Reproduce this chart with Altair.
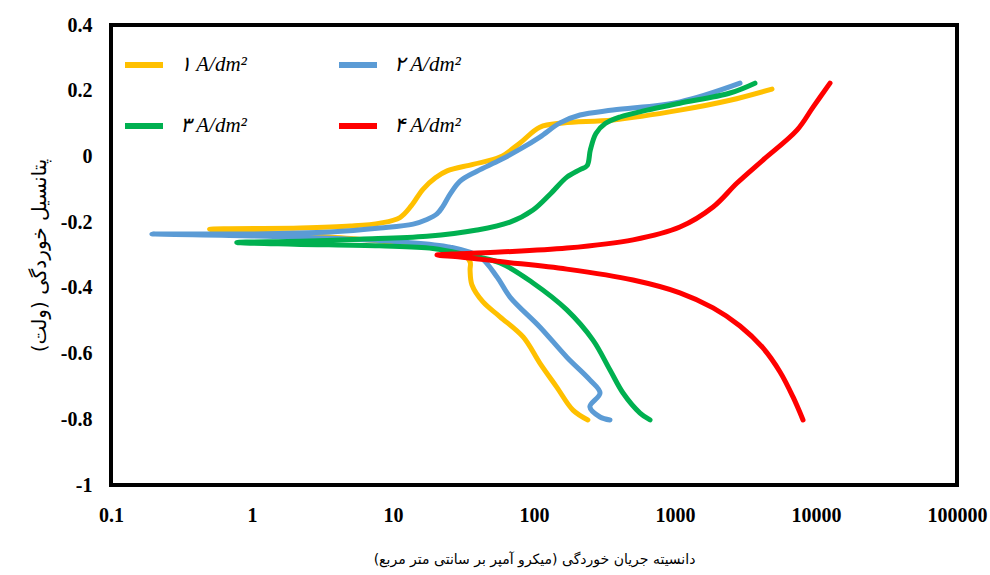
import altair as alt
import pandas as pd

# ---- data (current density in µA/cm², potential in V) ----
series_labels = ["۱ A/dm²", "۲ A/dm²", "۳ A/dm²", "۴ A/dm²"]
series_colors = ["#FFC000", "#5B9BD5", "#00B050", "#FF0000"]

# each series: cathodic end -> tip at Ecorr -> anodic end
s1_i = [241, 189, 145, 110, 84, 57.4, 43.5, 36.3, 35.2, 35.2, 30, 15, 5, 1.5, 0.5,
        2.2, 5, 8.1, 11.2, 13.5, 16.3, 20, 24.2, 36.9, 57.4, 79.6, 110, 161, 363, 1083, 2455, 4876]
s1_e = [-0.802, -0.772, -0.702, -0.629, -0.55, -0.488, -0.443, -0.391, -0.346, -0.321, -0.295, -0.27, -0.25, -0.235, -0.222,
        -0.218, -0.212, -0.203, -0.186, -0.15, -0.1, -0.065, -0.044, -0.024, -0.002, 0.041, 0.089, 0.102, 0.111, 0.141, 0.171, 0.205]

s2_i = [346, 294, 249, 294, 249, 171, 110, 67.6, 54.7, 41.4, 25.4, 11.2, 4, 1, 0.195,
        1, 3.6, 8.1, 13.9, 17.4, 20.5, 22.6, 25.4, 29.9, 39.4, 57.4, 79.6, 110, 153, 212, 363, 1083, 2891]
s2_e = [-0.802, -0.793, -0.762, -0.72, -0.68, -0.611, -0.519, -0.428, -0.367, -0.306, -0.276, -0.26, -0.25, -0.242, -0.236,
        -0.236, -0.23, -0.218, -0.206, -0.192, -0.175, -0.152, -0.115, -0.075, -0.045, -0.011, 0.022, 0.059, 0.102, 0.126, 0.141, 0.166, 0.223]

s3_i = [665, 565, 428, 346, 262, 171, 98.4, 57.4, 33.5, 19.2, 8, 2, 0.78,
        2.2, 5.8, 17.4, 39.4, 67.6, 98.4, 130, 171, 212, 238, 251, 275, 320, 407, 633, 1083, 2455, 3690]
s3_e = [-0.802, -0.781, -0.72, -0.65, -0.559, -0.467, -0.385, -0.324, -0.3, -0.28, -0.272, -0.267, -0.262,
        -0.258, -0.252, -0.243, -0.224, -0.2, -0.163, -0.115, -0.063, -0.04, -0.028, 0.02, 0.07, 0.1, 0.12, 0.141, 0.162, 0.193, 0.223]

s4_i = [8091, 6871, 5559, 4207, 2891, 1862, 1083, 504, 171, 57.4, 30, 20.5,
        30, 57.4, 171, 504, 1083, 1862, 2754, 4207, 7328, 9530, 12570]
s4_e = [-0.802, -0.732, -0.656, -0.583, -0.516, -0.461, -0.415, -0.376, -0.343, -0.32, -0.306, -0.3,
        -0.296, -0.291, -0.279, -0.254, -0.215, -0.154, -0.081, -0.011, 0.08, 0.15, 0.223]

x_ticks = [0.1, 1, 10, 100, 1000, 10000, 100000]
y_ticks = [-1, -0.8, -0.6, -0.4, -0.2, 0, 0.2, 0.4]

x_title = "دانسیته جریان خوردگی (میکرو آمپر بر سانتی متر مربع)\u200f"
y_title = "پتانسیل خوردگی (ولت)\u200f"

rows = []
for lab, xs, ys in zip(series_labels, [s1_i, s2_i, s3_i, s4_i], [s1_e, s2_e, s3_e, s4_e]):
    for k, (a, b) in enumerate(zip(xs, ys)):
        rows.append({"series": lab, "i": a, "E": b, "idx": k})
df = pd.DataFrame(rows)

serif = "Times New Roman, Liberation Serif, serif"

chart = alt.Chart(df).mark_line(
    strokeWidth=5, strokeCap="round", strokeJoin="round", interpolate="catmull-rom"
).encode(
    x=alt.X("i:Q", scale=alt.Scale(type="log", domain=[0.1, 100000]),
            axis=alt.Axis(values=x_ticks, format="~g", title=x_title, ticks=False, domain=False,
                          grid=False, labelPadding=20, labelFont=serif,
                          labelFontWeight="bold", labelFontSize=20, labelColor="black",
                          titleFont="DejaVu Sans", titleFontWeight="normal", titleFontSize=14,
                          titleColor="black", titlePadding=27, labelFlush=False)),
    y=alt.Y("E:Q", scale=alt.Scale(domain=[-1, 0.4]),
            axis=alt.Axis(values=y_ticks, format="~g", title=y_title, ticks=False, domain=False, grid=False,
                          labelExpr="replace(datum.label, '\u2212', '-')",
                          labelPadding=19, labelFont=serif, labelFontWeight="bold",
                          labelFontSize=20, labelColor="black",
                          titleFont="DejaVu Sans", titleFontWeight="normal", titleFontSize=20,
                          titleColor="black", titlePadding=11)),
    color=alt.Color("series:N", scale=alt.Scale(domain=series_labels, range=series_colors),
                    legend=alt.Legend(orient="none", legendX=11, legendY=18, columns=2,
                                      direction="horizontal", title=None,
                                      symbolType="stroke", symbolStrokeWidth=6, symbolSize=1444,
                                      labelFont=serif, labelFontSize=21,
                                      labelFontStyle="italic", labelColor="black",
                                      labelOffset=14, rowPadding=27, columnPadding=80, padding=0)),
    order=alt.Order("idx:Q"),
).properties(
    width=846, height=460,
    padding={"left": 111, "top": 25, "right": 33, "bottom": 90},
    autosize=alt.AutoSizeParams(type="none"),
    background="white",
).configure_view(stroke="black", strokeWidth=4)

chart.save("out.html", embed_options={"renderer": "svg", "actions": False})
